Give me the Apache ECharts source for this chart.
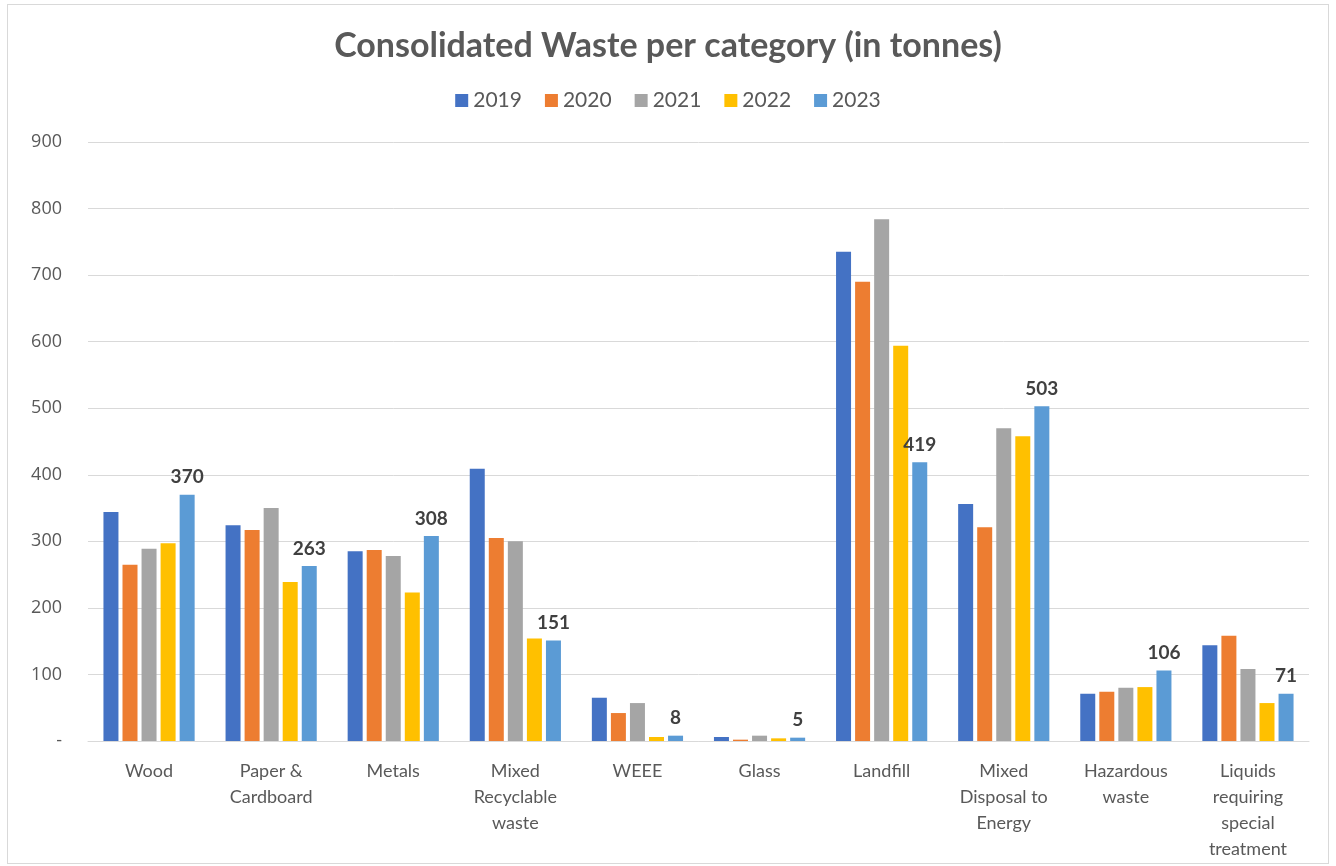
<!DOCTYPE html>
<html lang="en">
<head>
    <meta charset="UTF-8">
    <title>Consolidated Waste per category</title>
    <style>
        html, body { margin: 0; padding: 0; background: #fff; }
        .chart {
            position: absolute;
            left: 7px;
            top: 4px;
            width: 1322px;
            height: 860px;
            border: 1px solid #d9d9d9;
            box-sizing: border-box;
        }
    </style>
    <script src="https://cdn.jsdelivr.net/npm/echarts@6/dist/echarts.min.js"></script>
</head>
<body>
    <div class="chart"></div>
    <script>
        // categories
        var categories = ['Wood', 'Paper &\nCardboard', 'Metals', 'Mixed\nRecyclable\nwaste', 'WEEE', 'Glass',
            'Landfill', 'Mixed\nDisposal to\nEnergy', 'Hazardous\nwaste', 'Liquids\nrequiring\nspecial\ntreatment'];

        // series values (tonnes)
        var years = ['2019', '2020', '2021', '2022', '2023'];
        var v2019 = [344, 324, 285, 409, 65, 6, 735, 356, 71, 144];
        var v2020 = [265, 317, 287, 305, 42, 2, 690, 321, 74, 158];
        var v2021 = [289, 350, 278, 300, 57, 8, 784, 470, 80, 108];
        var v2022 = [297, 239, 223, 154, 6, 4, 594, 458, 81, 57];
        var v2023 = [370, 263, 308, 151, 8, 5, 419, 503, 106, 71];

        var colors = ['#4472C4', '#ED7D31', '#A5A5A5', '#FFC000', '#5B9BD5'];
        var allValues = [v2019, v2020, v2021, v2022, v2023];

        var series = years.map(function (y, i) {
            return {
                name: y,
                type: 'bar',
                barWidth: 15,
                barGap: '27%',
                data: allValues[i],
                itemStyle: { color: colors[i] },
                label: {
                    // only the last year gets data labels
                    show: i === 4,
                    position: 'top',
                    distance: 8,
                    color: '#404040',
                    fontSize: 19,
                    fontWeight: 'bold',
                    fontFamily: 'Lato'
                }
            };
        });

        var option = {
            animation: false,
            title: {
                text: 'Consolidated Waste per category (in tonnes)',
                left: 'center',
                top: 19,
                textStyle: {
                    fontFamily: 'Lato',
                    fontSize: 34,
                    fontWeight: 'bold',
                    color: '#595959'
                }
            },
            legend: {
                top: 80,
                left: 'center',
                itemWidth: 13,
                itemHeight: 13,
                itemGap: 23,
                icon: 'rect',
                textStyle: { fontFamily: 'Lato', fontSize: 21, color: '#595959' },
                data: years
            },
            grid: {
                left: 80,
                right: 19,
                top: 137,
                bottom: 122
            },
            xAxis: {
                type: 'category',
                data: categories,
                axisTick: { show: false },
                axisLine: { lineStyle: { color: '#d9d9d9' } },
                axisLabel: {
                    interval: 0,
                    margin: 17,
                    fontFamily: 'Lato',
                    fontSize: 18,
                    lineHeight: 26,
                    color: '#595959'
                }
            },
            yAxis: {
                type: 'value',
                min: 0,
                max: 900,
                interval: 100,
                axisLine: { show: false },
                axisTick: { show: false },
                splitLine: { lineStyle: { color: '#d9d9d9' } },
                axisLabel: {
                    margin: 26,
                    fontFamily: 'Open Sans',
                    fontSize: 18,
                    color: '#595959',
                    formatter: function (v) { return v === 0 ? '-' : v; }
                }
            },
            series: series
        };

        var chart = echarts.init(document.querySelector('.chart'));
        chart.setOption(option);
    </script>
</body>
</html>
